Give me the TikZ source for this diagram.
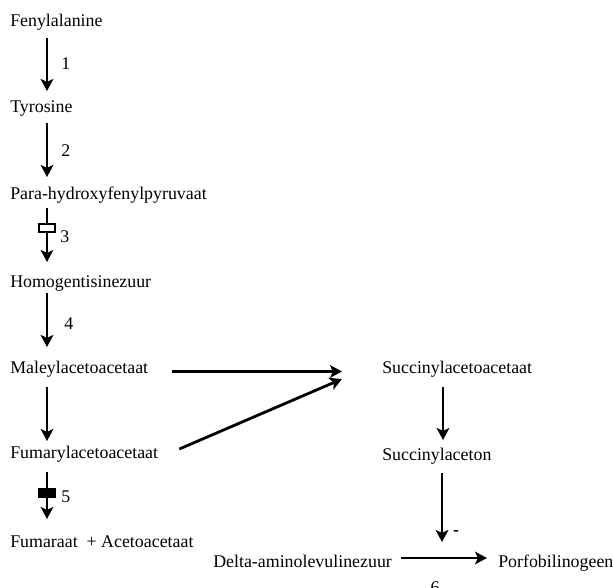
\documentclass[tikz,border=0pt]{standalone}
\usepackage{fontspec}
\setmainfont{Liberation Serif}
\usetikzlibrary{arrows.meta,calc}

\begin{document}
\begin{tikzpicture}[x=0.75pt,y=-0.75pt,
  compound/.style={inner sep=0pt, anchor=base west, font=\fontsize{13.4}{16}\selectfont, text height=9.5pt, text depth=3pt},
  enzyme/.style={inner sep=0pt, font=\fontsize{13.4}{16}\selectfont},
  rxn/.style={-{Stealth[length=9pt,width=9.5pt,inset=2.2pt]}, line width=2.1pt},
  block/.style={draw, line width=0.8pt, minimum width=12pt, minimum height=6pt, inner sep=0pt}]
\useasboundingbox (0,0) rectangle (613,588);

% Compounds, left column
\node[compound] (fen) at (10,27) {Fenylalanine};
\node[compound] (tyr) at (10,113) {Tyrosine};
\node[compound] (para) at (10,199) {Para-hydroxyfenylpyruvaat};
\node[compound] (homo) at (10,287) {Homogentisinezuur};
\node[compound] (maley) at (10,373) {Maleylacetoacetaat};
\node[compound] (fumaryl) at (10,458) {Fumarylacetoacetaat};
\node[compound] (fumaraat) at (10,547) {Fumaraat \ + Acetoacetaat};

% Compounds, right side
\node[compound] (succaa) at (382,373) {Succinylacetoacetaat};
\node[compound] (succn) at (382,460) {Succinylaceton};
\node[compound] (delta) at (213,567) {Delta-aminolevulinezuur};
\node[compound] (porfo) at (498,567) {Porfobilinogeen};

% Main pathway
\draw[rxn] ($(fen.base west)+(37,11)$) -- node[enzyme, pos=0.49, right=9.75pt] (e1) {1} ($(tyr.base west)+(37,-22)$);
\draw[rxn] ($(tyr.base west)+(37,10)$) -- node[enzyme, pos=0.52, right=9.75pt] (e2) {2} ($(para.base west)+(37,-22)$);
\draw[rxn] ($(para.base west)+(37,9)$) -- node[block, fill=white, pos=0.37] (blk3) {}
  node[enzyme, pos=0.53, right=9pt] (e3) {3} ($(homo.base west)+(37,-25)$);
\draw[rxn] ($(homo.base west)+(37,6)$) -- node[enzyme, pos=0.57, right=12pt] (e4) {4} ($(maley.base west)+(37,-26)$);
\draw[rxn] ($(maley.base west)+(37,14)$) -- ($(fumaryl.base west)+(37,-17)$);
\draw[rxn] ($(fumaryl.base west)+(37,14)$) -- node[block, fill=black, pos=0.44, minimum width=12.75pt, minimum height=6.75pt] (blk5) {}
  node[enzyme, pos=0.52, right=9.75pt] (e5) {5} ($(fumaraat.base west)+(37,-28)$);

% Side pathway
\draw[rxn] ($(maley.base east)+(24,-1.5)$) -- ($(succaa.base west |- maley.base)+(-40,-1.5)$);
\draw[rxn] ($(fumaryl.base east)+(21,-9)$) -- ($(succaa.base west)+(-40,6)$);
\draw[rxn] ($(succaa.base west)+(61,14)$) -- ($(succn.base west)+(61,-20)$);

% Porphyrin step and inhibition
\draw[rxn] ($(delta.base east)+(9,-9)$) -- coordinate[pos=0.476] (r6) ($(porfo.base west)+(-11,-9)$);
\node[enzyme, anchor=base] (e6) at ($(r6)+(-7,35)$) {6};
\draw[rxn] ($(r6 |- succn.base)+(0,13)$) -- ($(r6)+(0,-16)$);
\node[enzyme, anchor=base, font=\fontsize{13.4}{16}\selectfont\bfseries] (inh) at ($(r6)+(14,-22.5)$) {-};
\end{tikzpicture}
\end{document}
